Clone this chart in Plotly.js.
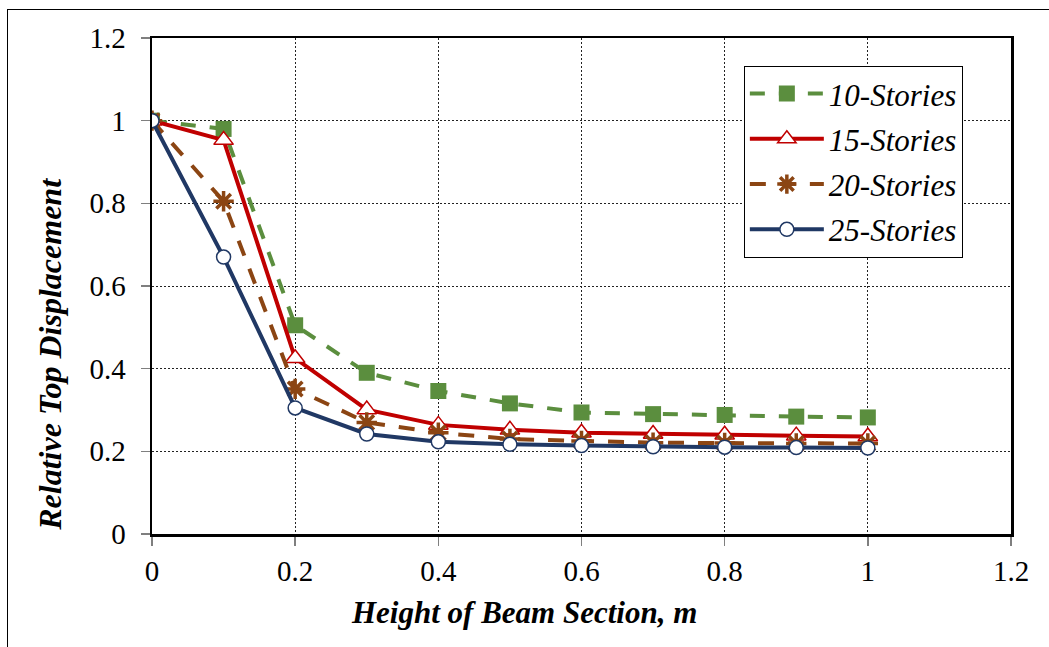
<!DOCTYPE html>
<html>
<head>
<meta charset="utf-8">
<script src="https://cdn.plot.ly/plotly-3.0.1.min.js"></script>
<style>
  html, body { margin: 0; padding: 0; background: #ffffff; }
  #wrap { position: relative; width: 1049px; height: 647px; overflow: hidden; }
  #chart { width: 1049px; height: 647px; }
  #frame { position: absolute; left: 7px; top: 9px; right: -20px; bottom: -20px;
           border-top: 1.5px solid #000; border-left: 1.5px solid #000; pointer-events: none; }
</style>
</head>
<body>
<div id="wrap">
  <div id="chart"></div>
  <div id="frame"></div>
</div>
<script>
// Beam section height (m)
const beamHeight = [0, 0.1, 0.2, 0.3, 0.4, 0.5, 0.6, 0.7, 0.8, 0.9, 1.0];

// Relative top displacement for each building height
const stories10 = [1.0, 0.98, 0.505, 0.39, 0.346, 0.316, 0.294, 0.29, 0.288, 0.284, 0.282];
const stories15 = [1.0, 0.953, 0.425, 0.301, 0.264, 0.252, 0.245, 0.242, 0.24, 0.238, 0.236];
const stories20 = [1.0, 0.805, 0.351, 0.27, 0.245, 0.23, 0.225, 0.221, 0.22, 0.219, 0.219];
const stories25 = [1.0, 0.67, 0.305, 0.242, 0.223, 0.217, 0.214, 0.211, 0.21, 0.209, 0.208];

const seriesNames = ['10-Stories', '15-Stories', '20-Stories', '25-Stories'];
const tickVals = [0, 0.2, 0.4, 0.6, 0.8, 1.0, 1.2];
const tickText = ['0', '0.2', '0.4', '0.6', '0.8', '1', '1.2'];

const serif = 'Liberation Serif, Times New Roman, serif';

const traces = [
  {
    x: beamHeight, y: stories10, name: seriesNames[0], legendgroup: 'a',
    mode: 'lines+markers',
    line: { color: '#5B8E3E', width: 4, dash: '15px,14px' },
    marker: { symbol: 'square', size: 16, color: '#5B8E3E' }
  },
  {
    x: beamHeight, y: stories15, name: seriesNames[1], legendgroup: 'b',
    mode: 'lines+markers',
    line: { color: '#C00000', width: 4 },
    marker: { symbol: 'triangle-up', size: 17, color: '#ffffff', line: { color: '#C00000', width: 1.5 } }
  },
  {
    x: beamHeight, y: stories20, name: seriesNames[2], legendgroup: 'c',
    mode: 'lines+markers',
    line: { color: '#8B4513', width: 4, dash: '16px,14px' },
    marker: { symbol: 'asterisk-open', size: 17, color: '#8B4513', line: { color: '#8B4513', width: 3.5 } }
  },
  {
    x: beamHeight, y: stories25, name: seriesNames[3], legendgroup: 'd',
    mode: 'lines+markers',
    line: { color: '#203864', width: 4 },
    marker: { symbol: 'circle', size: 14, color: '#ffffff', line: { color: '#203864', width: 1.5 } }
  }
];

const axisCommon = {
  range: [0, 1.2],
  tickmode: 'array',
  tickvals: tickVals,
  ticktext: tickText,
  showgrid: true,
  gridcolor: '#222222',
  gridwidth: 1,
  griddash: '2px,2px',
  zeroline: false,
  showline: true,
  linecolor: '#000000',
  linewidth: 2.5,
  mirror: true,
  ticks: 'outside',
  ticklen: 9,
  tickwidth: 1.5,
  tickcolor: '#7f7f7f',
  tickfont: { family: serif, size: 29, color: '#000000' }
};

const layout = {
  width: 1049,
  height: 647,
  margin: { l: 152, r: 38, t: 38, b: 113 },
  paper_bgcolor: '#ffffff',
  plot_bgcolor: '#ffffff',
  showlegend: true,
  xaxis: Object.assign({}, axisCommon, { ticklabelstandoff: 1 }),
  yaxis: Object.assign({}, axisCommon, { ticklabelstandoff: 9 }),
  legend: {
    x: 0.689, y: 0.944, xanchor: 'left', yanchor: 'top',
    bgcolor: '#ffffff',
    bordercolor: '#000000',
    borderwidth: 1,
    itemwidth: 74,
    tracegroupgap: 2,
    font: { family: serif, size: 31, color: '#000000', style: 'italic' }
  },
  annotations: [
    {
      text: '<b><i>Height of Beam Section, m</i></b>',
      xref: 'paper', yref: 'paper', x: 0.433, y: -0.158,
      xanchor: 'center', yanchor: 'middle', showarrow: false,
      font: { family: serif, size: 31, color: '#000000' }
    },
    {
      text: '<b><i>Relative Top Displacement</i></b>',
      xref: 'paper', yref: 'paper', x: -0.119, y: 0.363,
      xanchor: 'center', yanchor: 'middle', textangle: -90, showarrow: false,
      font: { family: serif, size: 32, color: '#000000' }
    }
  ]
};

Plotly.newPlot('chart', traces, layout, { displayModeBar: false, staticPlot: true });
</script>
</body>
</html>
